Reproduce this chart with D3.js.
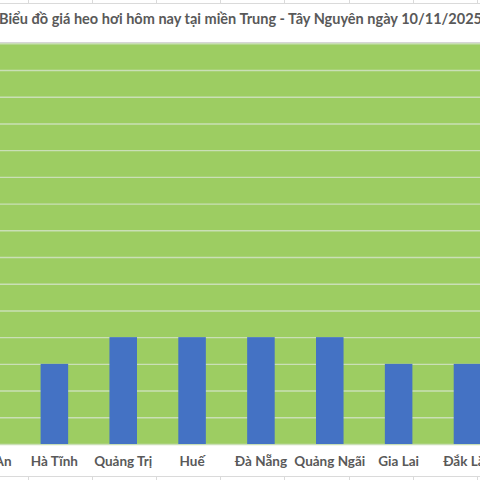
<!DOCTYPE html>
<html>
<head>
<meta charset="utf-8">
<script src="https://cdn.jsdelivr.net/npm/d3@7"></script>
<style>
  html, body { margin: 0; padding: 0; background: #ffffff; }
  svg { display: block; }
</style>
</head>
<body>
<svg id="chart" width="480" height="480"></svg>
<script>
const title = "Biểu đồ giá heo hơi hôm nay tại miền Trung - Tây Nguyên ngày 10/11/2025";
const categories = ["Nghệ An", "Hà Tĩnh", "Quảng Trị", "Huế", "Đà Nẵng", "Quảng Ngãi", "Gia Lai", "Đắk Lắk"];
const prices = [52000, 52000, 53000, 53000, 53000, 53000, 52000, 52000];
const yTicks = d3.range(49000, 64001, 1000);

const svg = d3.select("#chart");
const W = 480, H = 480;

// spreadsheet cell lines behind the chart
const cellX = d3.range(28, 481, 64.1);
svg.append("line").attr("x1", 0).attr("x2", W).attr("y1", 3.5).attr("y2", 3.5)
  .attr("stroke", "#dadada").attr("stroke-width", 1);
svg.append("line").attr("x1", 0).attr("x2", W).attr("y1", 476.5).attr("y2", 476.5)
  .attr("stroke", "#dadada").attr("stroke-width", 1);
cellX.forEach(x => {
  svg.append("line").attr("x1", Math.round(x) + 0.5).attr("x2", Math.round(x) + 0.5)
    .attr("y1", 0).attr("y2", 3).attr("stroke", "#dadada");
  svg.append("line").attr("x1", Math.round(x) + 0.5).attr("x2", Math.round(x) + 0.5)
    .attr("y1", 477).attr("y2", H).attr("stroke", "#dadada");
});

// title
svg.append("text")
  .attr("x", -1).attr("y", 24)
  .attr("text-anchor", "start")
  .attr("textLength", 483).attr("lengthAdjust", "spacingAndGlyphs")
  .attr("font-family", "Lato, 'Open Sans', sans-serif")
  .attr("font-weight", "bold")
  .attr("font-size", 15)
  .attr("fill", "#595959")
  .text(title);

const plotTop = 43.3, plotBottom = 444;
const y = d3.scaleLinear().domain([49000, 64000]).range([plotBottom, plotTop]);
const x = d3.scaleBand().domain(categories)
  .range([-48.9, -48.9 + 8 * 68.85]).paddingInner(0.6).paddingOuter(0.3);

// plot area
svg.append("rect").attr("x", -2).attr("y", plotTop).attr("width", W + 4)
  .attr("height", plotBottom - plotTop).attr("fill", "#9dcd62");
svg.append("line").attr("x1", 0).attr("x2", W).attr("y1", plotTop - 0.8).attr("y2", plotTop - 0.8)
  .attr("stroke", "#d6d6d6").attr("stroke-width", 1);

// gridlines via axis
const yAxis = d3.axisLeft(y).tickValues(yTicks).tickSize(-(W + 4)).tickFormat("");
const gAxis = svg.append("g").attr("transform", "translate(-2,0)").call(yAxis);
gAxis.select(".domain").remove();
gAxis.selectAll(".tick line").attr("stroke", "#cadfb6").attr("stroke-width", 1.4);

// bars
svg.append("g").selectAll("rect.bar")
  .data(categories.map((c, i) => ({ c, v: prices[i] })))
  .join("rect")
  .attr("class", "bar")
  .attr("x", d => x(d.c))
  .attr("width", x.bandwidth())
  .attr("y", d => y(d.v))
  .attr("height", d => y(49000) - y(d.v))
  .attr("fill", "#4472c4");

// x labels via axis
const xAxis = d3.axisBottom(x).tickSize(0).tickPadding(0);
const gx = svg.append("g").attr("transform", `translate(0,${plotBottom})`).call(xAxis);
gx.select(".domain").remove();
gx.selectAll(".tick text")
  .attr("y", 22).attr("dy", 0)
  .attr("font-family", "Lato, 'Open Sans', sans-serif")
  .attr("font-weight", "bold")
  .attr("font-size", 13.5)
  .attr("fill", "#595959");
</script>
</body>
</html>
